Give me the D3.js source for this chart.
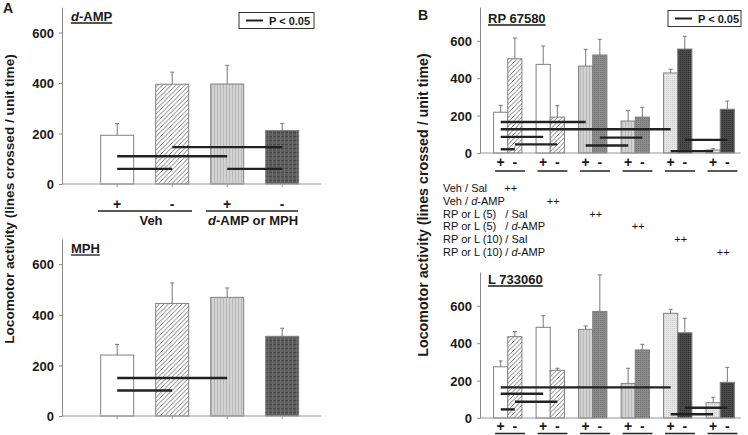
<!DOCTYPE html>
<html><head><meta charset="utf-8">
<script src="https://cdn.jsdelivr.net/npm/d3@7"></script>
<style>
body{margin:0;background:#fff}
svg{display:block;font-family:"Liberation Sans",Arial,Helvetica,sans-serif}
</style>
</head><body>
<svg id="c" width="748" height="435"></svg>
<script>
// ---------------- DATA ----------------
const aGroups = ["Veh", "d-AMP or MPH"];
const aTreat = ["+", "-", "+", "-"];
const aFills = ["white", "hatch", "stripe", "plaid"];
const yTicksA = [0, 200, 400, 600];

const dampMeans = [193, 395, 396, 212];
const dampSem   = [47, 48, 74, 28];
const dampSig   = [[1, 3, 146], [0, 2, 110], [0, 1, 60], [2, 3, 60]];

const mphMeans = [241, 445, 469, 315];
const mphSem   = [42, 81, 37, 32];
const mphSig   = [[0, 2, 150], [0, 1, 101]];

const bTreat = ["+", "-"];
const bFills = ["white", "hatch", "white", "hatch", "stripe", "dots", "stripe", "dots", "speckle", "dark", "speckle", "dark"];
const yTicksB = [0, 200, 400, 600];

const rpMeans = [218, 504, 474, 192, 465, 524, 171, 192, 428, 556, 16, 234];
const rpSem   = [37, 111, 98, 61, 89, 84, 57, 52, 20, 68, 7, 44];
const rpSig   = [[0, 4, 166], [0, 8, 127], [0, 2, 86], [1, 3, 46], [0, 1, 20], [5, 7, 82], [4, 6, 40], [9, 11, 70], [8, 10, 10]];

const lMeans = [274, 435, 485, 255, 474, 570, 185, 364, 560, 456, 82, 191];
const lSem   = [31, 27, 62, 11, 18, 195, 81, 30, 21, 77, 29, 80];
const lSig   = [[0, 8, 164], [0, 2, 130], [1, 3, 87], [0, 1, 46], [9, 11, 55], [8, 10, 20]];

const tableRows = [["Veh / Sal"], ["Veh / ", "d", "-AMP"], ["RP or L (5)   / Sal"], ["RP or L (5)   / ", "d", "-AMP"], ["RP or L (10) / Sal"], ["RP or L (10) / ", "d", "-AMP"]];
const yLabel = "Locomotor activity (lines crossed / unit time)";
const legendText = "P < 0.05";

// ---------------- DRAWING ----------------
const svg = d3.select("#c");
const defs = svg.append("defs");
const TXT = "#1a1a1a";

function pat(id, w, h, bg, draw) {
  const p = defs.append("pattern").attr("id", id).attr("patternUnits", "userSpaceOnUse").attr("width", w).attr("height", h);
  p.append("rect").attr("width", w).attr("height", h).attr("fill", bg);
  draw(p);
}
pat("hatch", 4.5, 4.5, "#fff", p => {
  p.append("path").attr("d", "M-1,1 L1,-1 M0,4.5 L4.5,0 M3.5,5.5 L5.5,3.5").attr("stroke", "#555").attr("stroke-width", 0.8);
});
pat("stripe", 3, 3, "#d2d2d2", p => {
  p.append("rect").attr("x", 1).attr("width", 1).attr("height", 3).attr("fill", "#b9b9b9");
});
pat("plaid", 4, 4, "#5c5c5c", p => {
  p.append("rect").attr("width", 4).attr("height", 1).attr("fill", "#474747");
  p.append("rect").attr("width", 1).attr("height", 4).attr("fill", "#6e6e6e");
});
pat("dots", 2, 2, "#8c8c8c", p => {
  p.append("rect").attr("width", 1).attr("height", 1).attr("fill", "#727272");
});
pat("speckle", 2, 2, "#e6e6e6", p => {
  p.append("rect").attr("width", 1).attr("height", 1).attr("fill", "#cfcfcf");
});
pat("dark", 2, 2, "#4a4a4a", p => {
  p.append("rect").attr("width", 1).attr("height", 1).attr("fill", "#333");
});
const fillOf = f => f === "white" ? "#fff" : `url(#${f})`;

function underlinedTitle(x, y, parts) {
  const t = svg.append("text").attr("x", x).attr("y", y).attr("font-size", 13).attr("font-weight", "bold").attr("fill", TXT);
  parts.forEach(([s, it]) => t.append("tspan").text(s).attr("font-style", it ? "italic" : "normal"));
  const w = t.node().getComputedTextLength();
  svg.append("line").attr("x1", x).attr("x2", x + w).attr("y1", y + 2).attr("y2", y + 2).attr("stroke", TXT).attr("stroke-width", 1.3);
}

function legend(x, y, w, h) {
  svg.append("rect").attr("x", x).attr("y", y).attr("width", w).attr("height", h).attr("fill", "#fff").attr("stroke", "#333").attr("stroke-width", 1);
  svg.append("line").attr("x1", x + 7).attr("x2", x + 24).attr("y1", y + h / 2).attr("y2", y + h / 2).attr("stroke", "#222").attr("stroke-width", 2);
  svg.append("text").attr("x", x + 30).attr("y", y + h / 2 + 4).attr("font-size", 11).attr("font-weight", "bold").attr("fill", TXT).text(legendText);
}

function yAxis(x0, y, ticks) {
  const g = svg.append("g").attr("transform", `translate(${x0},0)`)
    .call(d3.axisLeft(y).tickValues(ticks).tickSize(3).tickSizeOuter(0).tickPadding(5));
  g.select(".domain").attr("stroke", "#888");
  g.selectAll(".tick line").attr("stroke", "#888");
  g.selectAll(".tick text").attr("font-size", 13).attr("font-weight", "bold").attr("fill", TXT).attr("font-family", "Liberation Sans, Arial, sans-serif").attr("dy", "0.36em");
}

function drawBars(means, sem, fills, xc, bw, y) {
  means.forEach((m, i) => {
    svg.append("rect").attr("x", xc(i) - bw / 2).attr("y", y(m)).attr("width", bw).attr("height", y(0) - y(m))
      .attr("fill", fillOf(fills[i])).attr("stroke", "#808080").attr("stroke-width", 1);
  });
  means.forEach((m, i) => {
    const c = xc(i);
    svg.append("line").attr("x1", c).attr("x2", c).attr("y1", y(m)).attr("y2", y(m + sem[i])).attr("stroke", "#777").attr("stroke-width", 1);
    svg.append("line").attr("x1", c - 2).attr("x2", c + 2).attr("y1", y(m + sem[i])).attr("y2", y(m + sem[i])).attr("stroke", "#777").attr("stroke-width", 1);
  });
}
function drawSig(sig, xc, y) {
  sig.forEach(([a, b, v]) => {
    svg.append("line").attr("x1", xc(a)).attr("x2", xc(b)).attr("y1", y(v)).attr("y2", y(v)).attr("stroke", "#222").attr("stroke-width", 2.4);
  });
}

function rotLabel(cx, cy, target) {
  const t = svg.append("text").attr("font-size", 13).attr("font-weight", "bold").attr("fill", TXT).attr("text-anchor", "middle")
    .attr("transform", `translate(${cx},${cy}) rotate(-90)`).attr("dy", "0.35em").text(yLabel);
  const w = t.node().getComputedTextLength();
  t.attr("font-size", 13 * target / w);
}

// ---- Panel A ----
svg.append("text").attr("x", 3).attr("y", 12.5).attr("font-size", 14).attr("font-weight", "bold").attr("fill", TXT).text("A");
rotLabel(9, 199, 290);

const xA = d3.scaleBand().domain(d3.range(4)).range([89.7, 309.7]).paddingInner(0.4).paddingOuter(0.2);
const xcA = i => xA(i) + xA.bandwidth() / 2;

function panelA(y0, yTop, means, sem, sig, titleParts, titleY, withLegend, withXLabels) {
  const y = d3.scaleLinear().domain([0, 700]).range([y0, yTop]);
  yAxis(62, y, yTicksA);
  drawBars(means, sem, aFills, xcA, xA.bandwidth(), y);
  svg.append("line").attr("x1", 62).attr("x2", 321).attr("y1", y(0)).attr("y2", y(0)).attr("stroke", "#999");
  d3.range(4).forEach(i => svg.append("line").attr("x1", xcA(i)).attr("x2", xcA(i)).attr("y1", y(0)).attr("y2", y(0) + 3).attr("stroke", "#999"));
  drawSig(sig, xcA, y);
  underlinedTitle(71, titleY, titleParts);
  if (withLegend) legend(239, 12.5, 75, 16);
  if (withXLabels) {
    aTreat.forEach((s, i) => svg.append("text").attr("x", xcA(i)).attr("y", 209).attr("text-anchor", "middle").attr("font-size", 14).attr("font-weight", "bold").attr("fill", TXT).text(s));
    [[98, 192], [206, 298]].forEach(([a, b]) => svg.append("line").attr("x1", a).attr("x2", b).attr("y1", 211).attr("y2", 211).attr("stroke", "#222").attr("stroke-width", 1.5));
    svg.append("text").attr("x", 151).attr("y", 225).attr("text-anchor", "middle").attr("font-size", 13).attr("font-weight", "bold").attr("fill", TXT).text(aGroups[0]);
    const t = svg.append("text").attr("x", 253).attr("y", 225).attr("text-anchor", "middle").attr("font-size", 13).attr("font-weight", "bold").attr("fill", TXT);
    t.append("tspan").attr("font-style", "italic").text(aGroups[1].slice(0, 1));
    t.append("tspan").text(aGroups[1].slice(1));
  }
}
panelA(184, 7.25, dampMeans, dampSem, dampSig, [["d", true], ["-AMP", false]], 21, true, true);
panelA(416, 238.9, mphMeans, mphSem, mphSig, [["MPH", false]], 253, false, false);

// ---- Panel B ----
svg.append("text").attr("x", 418).attr("y", 20).attr("font-size", 14).attr("font-weight", "bold").attr("fill", TXT).text("B");
rotLabel(423, 205, 304);

const xG = d3.scaleBand().domain(d3.range(6)).range([480, 748]).paddingInner(1 / 3).paddingOuter(0.32);
const xIn = d3.scaleBand().domain(d3.range(2)).range([0, xG.bandwidth()]);
const xcB = i => xG(Math.floor(i / 2)) + xIn(i % 2) + xIn.bandwidth() / 2;
const gc = g => xG(g) + xG.bandwidth() / 2;

function panelB(y0, means, sem, sig, title, titleY, withLegend, labY, lineY) {
  const y = d3.scaleLinear().domain([0, 780]).range([y0, y0 - 780 * 0.187]);
  yAxis(480, y, yTicksB);
  drawBars(means, sem, bFills, xcB, xIn.bandwidth(), y);
  svg.append("line").attr("x1", 480).attr("x2", 741).attr("y1", y(0)).attr("y2", y(0)).attr("stroke", "#999");
  drawSig(sig, xcB, y);
  underlinedTitle(488, titleY, [[title, false]]);
  if (withLegend) legend(668, 10.5, 73, 16);
  d3.range(12).forEach(i => svg.append("text").attr("x", xcB(i)).attr("y", labY).attr("text-anchor", "middle").attr("font-size", 14).attr("font-weight", "bold").attr("fill", TXT).text(bTreat[i % 2]));
  d3.range(6).forEach(g => svg.append("line").attr("x1", xG(g) + 1.5).attr("x2", xG(g) + xG.bandwidth() + 3).attr("y1", lineY).attr("y2", lineY).attr("stroke", "#222").attr("stroke-width", 1.5));
}
panelB(153, rpMeans, rpSem, rpSig, "RP 67580", 23, true, 167, 171);
panelB(418, lMeans, lSem, lSig, "L 733060", 284, false, 431, 433.5);

// table
tableRows.forEach((parts, r) => {
  const yy = 192 + r * 12.8;
  const t = svg.append("text").attr("x", 443).attr("y", yy).attr("font-size", 11).attr("fill", "#111");
  parts.forEach((s, k) => t.append("tspan").text(s).attr("font-style", (parts.length === 3 && k === 1) ? "italic" : "normal"));
  t.attr("style", "white-space:pre");
  svg.append("text").attr("x", gc(r) + 3).attr("y", yy).attr("text-anchor", "middle").attr("font-size", 11).attr("fill", "#111").text("++");
});
</script>
</body></html>
